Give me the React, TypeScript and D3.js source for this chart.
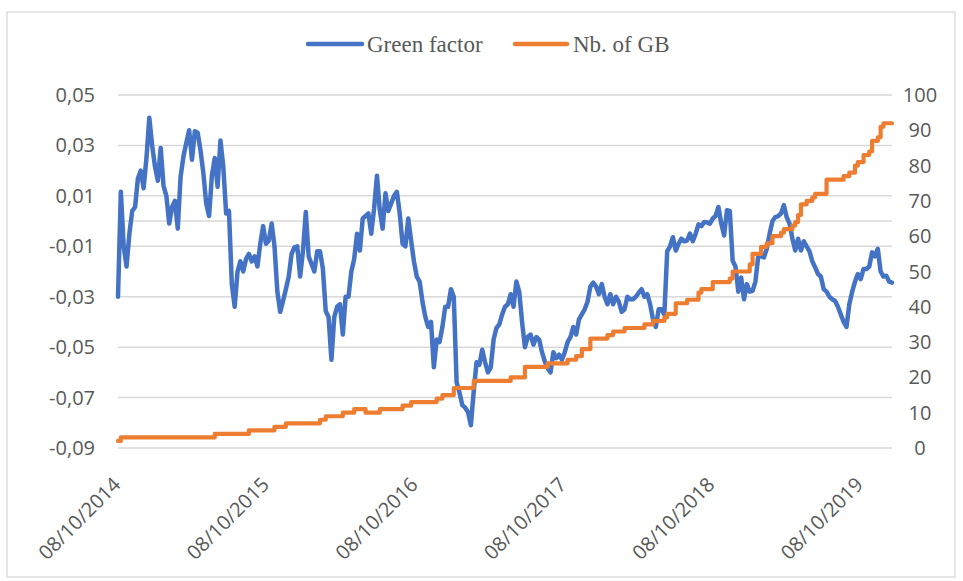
import React from 'react';
import * as d3 from 'd3';

// weekly observations starting 08/10/2014
const startDate = new Date(2014, 9, 8);

const greenFactor = [
    -0.030, 0.0116, -0.010, -0.018, -0.005, 0.004, 0.0056, 0.017, 0.020, 0.013,
    0.025, 0.041, 0.030, 0.0216, 0.016, 0.029, 0.014, 0.010, -0.001, 0.0056,
    0.008, -0.003, 0.0176, 0.0256, 0.031, 0.036, 0.0243, 0.0356, 0.035, 0.028,
    0.019, 0.007, 0.002, 0.018, 0.025, 0.0136, 0.032, 0.0216, 0.003, 0.004,
    -0.025, -0.034, -0.020, -0.016, -0.020, -0.015, -0.013, -0.016, -0.014, -0.018,
    -0.009, -0.002, -0.009, -0.0077, -0.001, -0.010, -0.028, -0.036, -0.0317, -0.027,
    -0.022, -0.013, -0.0104, -0.010, -0.022, -0.012, 0.0036, -0.014, -0.017, -0.020,
    -0.012, -0.012, -0.019, -0.0357, -0.038, -0.055, -0.038, -0.034, -0.033, -0.045,
    -0.030, -0.030, -0.020, -0.015, -0.005, -0.0117, 0.001, 0.002, 0.003, -0.005,
    0.005, 0.018, 0.0043, -0.003, 0.011, 0.004, 0.007, 0.010, 0.0116, 0.003,
    -0.009, -0.010, 0.001, -0.0077, -0.016, -0.022, -0.024, -0.032, -0.038, -0.042,
    -0.040, -0.058, -0.047, -0.048, -0.042, -0.034, -0.034, -0.027, -0.030, -0.064,
    -0.068, -0.073, -0.074, -0.0757, -0.081, -0.0677, -0.056, -0.057, -0.051, -0.056,
    -0.060, -0.058, -0.047, -0.0424, -0.041, -0.037, -0.034, -0.033, -0.029, -0.034,
    -0.024, -0.028, -0.040, -0.050, -0.046, -0.045, -0.049, -0.046, -0.047, -0.052,
    -0.0557, -0.0584, -0.060, -0.052, -0.0544, -0.053, -0.055, -0.052, -0.048, -0.046,
    -0.042, -0.045, -0.039, -0.037, -0.035, -0.032, -0.026, -0.0244, -0.026, -0.029,
    -0.025, -0.030, -0.033, -0.029, -0.033, -0.030, -0.032, -0.036, -0.035, -0.030,
    -0.031, -0.031, -0.030, -0.0284, -0.027, -0.030, -0.029, -0.033, -0.039, -0.042,
    -0.035, -0.035, -0.037, -0.012, -0.010, -0.0064, -0.0117, -0.009, -0.007, -0.008,
    -0.0077, -0.005, -0.008, -0.005, -0.0013, -0.002, -0.0004, -0.0005, -0.001, 0.001,
    0.002, 0.0056, -0.001, -0.0057, 0.0043, 0.004, -0.0157, -0.018, -0.028, -0.0224,
    -0.031, -0.025, -0.028, -0.0277, -0.024, -0.014, -0.014, -0.0144, -0.011, -0.005,
    0.000, 0.0016, 0.002, 0.003, 0.0063, 0.0015, -0.001, -0.007, -0.0117, -0.007,
    -0.0117, -0.008, -0.010, -0.012, -0.016, -0.0184, -0.021, -0.022, -0.027, -0.028,
    -0.030, -0.031, -0.0317, -0.034, -0.037, -0.040, -0.042, -0.033, -0.028, -0.024,
    -0.021, -0.023, -0.019, -0.019, -0.018, -0.0124, -0.014, -0.011, -0.020, -0.022,
    -0.0217, -0.024, -0.0244,
];

const nbOfGB = [
    2, 3, 3, 3, 3, 3, 3, 3, 3, 3,
    3, 3, 3, 3, 3, 3, 3, 3, 3, 3,
    3, 3, 3, 3, 3, 3, 3, 3, 3, 3,
    3, 3, 3, 3, 4, 4, 4, 4, 4, 4,
    4, 4, 4, 4, 4, 4, 5, 5, 5, 5,
    5, 5, 5, 5, 5, 6, 6, 6, 6, 7,
    7, 7, 7, 7, 7, 7, 7, 7, 7, 7,
    7, 8, 8, 9, 9, 9, 9, 9, 9, 10,
    10, 10, 10, 11, 11, 11, 11, 10, 10, 10,
    10, 10, 11, 11, 11, 11, 11, 11, 11, 11,
    12, 12, 12, 13, 13, 13, 13, 13, 13, 13,
    13, 13, 14, 14, 15, 15, 15, 15, 17, 17,
    17, 17, 17, 17, 17, 19, 19, 19, 19, 19,
    19, 19, 19, 19, 19, 19, 19, 19, 20, 20,
    20, 20, 20, 23, 23, 23, 23, 23, 23, 23,
    23, 24, 24, 24, 24, 24, 24, 24, 25, 25,
    25, 26, 26, 28, 28, 28, 31, 31, 31, 31,
    31, 31, 32, 32, 33, 33, 33, 33, 34, 34,
    34, 34, 34, 34, 34, 35, 35, 35, 36, 36,
    36, 36, 37, 38, 38, 38, 41, 41, 41, 41,
    42, 42, 42, 42, 44, 45, 45, 45, 45, 47,
    47, 47, 47, 47, 47, 48, 50, 50, 50, 50,
    50, 50, 52, 55, 55, 55, 57, 57, 58, 58,
    60, 60, 60, 61, 62, 62, 62, 63, 64, 66,
    69, 69, 70, 70, 71, 72, 72, 72, 72, 76,
    76, 76, 76, 76, 76, 77, 77, 78, 78, 80,
    81, 81, 83, 83, 84, 87, 87, 88, 91, 92,
    92, 92, 92,
];

const leftTicks = [-0.09, -0.07, -0.05, -0.03, -0.01, 0.01, 0.03, 0.05];
const rightTicks = [0, 10, 20, 30, 40, 50, 60, 70, 80, 90, 100];
const xTickYears = [2014, 2015, 2016, 2017, 2018, 2019];
const seriesNames = ['Green factor', 'Nb. of GB'];

const width = 963,
    height = 581;
const plot = { left: 118, right: 892, top: 95, bottom: 448 };
const BLUE = '#4472C4';
const ORANGE = '#ED7D31';
const GRID = '#D9D9D9';
const TEXT = '#595959';
const labelFont = "'Open Sans', 'Noto Sans', sans-serif";

const App = () => {
    const dates = greenFactor.map((_, i) => d3.timeDay.offset(startDate, 7 * i));

    const x = d3
        .scaleTime()
        .domain([dates[0], dates[dates.length - 1]])
        .range([plot.left, plot.right]);
    const yLeft = d3.scaleLinear().domain([-0.09, 0.05]).range([plot.bottom, plot.top]);
    const yRight = d3.scaleLinear().domain([0, 100]).range([plot.bottom, plot.top]);

    const greenLine = d3
        .line<number>()
        .x((_, i) => x(dates[i]))
        .y((d) => yLeft(d))(greenFactor);

    const gbLine = d3
        .line<number>()
        .curve(d3.curveStepAfter)
        .x((_, i) => x(dates[i]))
        .y((d) => yRight(d))(nbOfGB);

    const fmtLeft = (v: number) => v.toFixed(2).replace('.', ',');
    const fmtDate = d3.timeFormat('%d/%m/%Y');

    return (
        <>
            <style>{`body{margin:0}`}</style>
            <svg width={width} height={height} style={{ display: 'block', background: '#fff' }}>
                <rect x={7} y={12} width={948} height={565} fill="#fff" stroke={GRID} strokeWidth={1.3} />

                {/* gridlines on the left axis */}
                {leftTicks.map((t) => (
                    <line key={t} x1={plot.left} x2={plot.right} y1={yLeft(t)} y2={yLeft(t)} stroke={GRID} strokeWidth={1.5} />
                ))}
                {/* horizontal axis crossing at zero */}
                <line x1={plot.left} x2={plot.right} y1={yLeft(0)} y2={yLeft(0)} stroke={GRID} strokeWidth={1.5} />

                {leftTicks.map((t) => (
                    <text
                        key={t}
                        x={95}
                        y={yLeft(t)}
                        dy="0.35em"
                        textAnchor="end"
                        fontFamily={labelFont}
                        fontSize={20}
                        fill={TEXT}
                    >
                        {fmtLeft(t)}
                    </text>
                ))}

                {rightTicks.map((t) => (
                    <text
                        key={t}
                        x={920}
                        y={yRight(t)}
                        dy="0.35em"
                        textAnchor="middle"
                        fontFamily={labelFont}
                        fontSize={20}
                        fill={TEXT}
                    >
                        {t}
                    </text>
                ))}

                {xTickYears.map((yr) => {
                    const d = new Date(yr, 9, 8);
                    return (
                        <text
                            key={yr}
                            transform={`translate(${x(d) - 1},${plot.bottom + 33}) rotate(-45)`}
                            dy="0.35em"
                            textAnchor="end"
                            fontFamily={labelFont}
                            fontSize={20}
                            fill={TEXT}
                        >
                            {fmtDate(d)}
                        </text>
                    );
                })}

                <path d={greenLine || ''} fill="none" stroke={BLUE} strokeWidth={4.5} strokeLinejoin="round" strokeLinecap="round" />
                <path d={gbLine || ''} fill="none" stroke={ORANGE} strokeWidth={4.2} strokeLinejoin="round" strokeLinecap="round" />

                {/* legend */}
                <g fontFamily="'Liberation Serif', 'Times New Roman', serif" fontSize={23} fill={TEXT}>
                    <line x1={308} x2={362} y1={44} y2={44} stroke={BLUE} strokeWidth={4.5} strokeLinecap="round" />
                    <text x={367} y={44} dy="0.33em">
                        {seriesNames[0]}
                    </text>
                    <line x1={515} x2={567} y1={44} y2={44} stroke={ORANGE} strokeWidth={4.5} strokeLinecap="round" />
                    <text x={573} y={44} dy="0.33em">
                        {seriesNames[1]}
                    </text>
                </g>
            </svg>
        </>
    );
};

export default App;
